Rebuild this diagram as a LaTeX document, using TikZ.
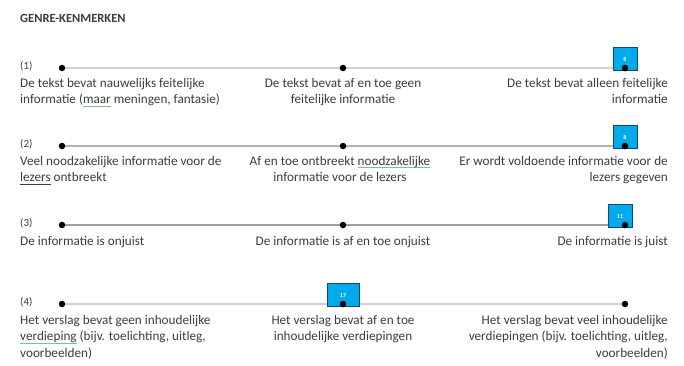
\documentclass[tikz,border=0pt]{standalone}
\usepackage{fontspec}
\setmainfont{Carlito}
\usepackage{tikz}
\usetikzlibrary{positioning, backgrounds}
\definecolor{TextGrey}{RGB}{60,60,60}
\definecolor{MarkBlue}{RGB}{0,170,235}
\definecolor{MarkEdge}{RGB}{20,70,120}
\definecolor{SpellGreen}{RGB}{120,195,135}
% spell-check style underline
\newsavebox{\spellbox}
\newcommand{\spellmark}[1]{\sbox{\spellbox}{#1}\rlap{\textcolor{SpellGreen}{\rule[-2.6pt]{\wd\spellbox}{0.8pt}}}\usebox{\spellbox}}
\newcommand{\greyline}[1]{\sbox{\spellbox}{#1}\rlap{\rule[-2.6pt]{\wd\spellbox}{0.6pt}}\usebox{\spellbox}}
\tikzset{
  dot/.style={circle, fill=black, inner sep=0pt, minimum size=6.5pt},
  scaleline/.style={line width=2.5pt},
  scoremark/.style={draw=MarkEdge, line width=0.6pt, fill=MarkBlue, minimum height=23pt, text=white, font=\fontsize{6}{6}\selectfont\bfseries},
  rubric/.style={text=TextGrey, inner sep=0pt, font=\fontsize{13.2}{16.5}\selectfont},
  itemno/.style={text=TextGrey, inner sep=0pt, font=\fontsize{11}{11}\selectfont, anchor=base west},
}

\begin{document}
\begin{tikzpicture}[x=1pt, y=-1pt]
  \useasboundingbox (0,0) rectangle (684,365);

  \node[rubric, anchor=west, font=\fontsize{12.5}{12.5}\selectfont\bfseries] (title) at (20,18) {GENRE-KENMERKEN};

  % the four scales
  \foreach \r/\y/\g in {1/68/18, 2/146/30, 3/225/38, 4/304/18} {
    \node[dot] (l\r) at (62,\y) {};
    \node[dot] (m\r) at (343,\y) {};
    \node[dot] (r\r) at (625,\y) {};
    \begin{scope}[on background layer]
      \draw[scaleline, black!\g] (l\r) -- (m\r) -- (r\r);
    \end{scope}
  }

  % scores
  \node[scoremark, minimum width=24pt, anchor=south] (s1) at ([yshift=-3pt]r1.center) {8};
  \node[scoremark, minimum width=24pt, anchor=south] (s2) at ([yshift=-3pt]r2.center) {8};
  \node[scoremark, minimum width=24pt, anchor=south] (s3) at ([xshift=-5pt, yshift=-3pt]r3.center) {11};
  \node[scoremark, minimum width=32pt, anchor=south] (s4) at ([yshift=-3pt]m4.center) {17};
  \foreach \d in {r1, r2, r3, m4} {
    \node[dot] at (\d) {};
  }

  % (1)
  \node[itemno] (n1) at (20,69) {(1)};
  \node[rubric, anchor=north west, align=left] (a1) at (20,78) {De tekst bevat nauwelijks feitelijke\\informatie (\spellmark{maar} meningen, fantasie)};
  \node[rubric, anchor=north, align=center] (b1) at (343,78) {De tekst bevat af en toe geen\\feitelijke informatie};
  \node[rubric, anchor=north east, align=right] (c1) at (668,78) {De tekst bevat alleen feitelijke\\informatie};

  % (2)
  \node[itemno] (n2) at (20,147) {(2)};
  \node[rubric, anchor=north west, align=left] (a2) at (20,156) {Veel noodzakelijke informatie voor de\\\greyline{lezers} ontbreekt};
  \node[rubric, anchor=north, align=center] (b2) at (340,156) {Af en toe ontbreekt \spellmark{noodzakelijke}\\informatie voor de lezers};
  \node[rubric, anchor=north east, align=right] (c2) at (668,156) {Er wordt voldoende informatie voor de\\lezers gegeven};

  % (3)
  \node[itemno] (n3) at (20,226) {(3)};
  \node[rubric, anchor=north west, align=left] (a3) at (20,236) {De informatie is onjuist};
  \node[rubric, anchor=north, align=center] (b3) at (343,236) {De informatie is af en toe onjuist};
  \node[rubric, anchor=north east, align=right] (c3) at (668,236) {De informatie is juist};

  % (4)
  \node[itemno] (n4) at (20,305) {(4)};
  \node[rubric, anchor=north west, align=left] (a4) at (20,315) {Het verslag bevat geen inhoudelijke\\\spellmark{verdieping} (bijv. toelichting, uitleg,\\voorbeelden)};
  \node[rubric, anchor=north, align=center] (b4) at (343,315) {Het verslag bevat af en toe\\inhoudelijke verdiepingen};
  \node[rubric, anchor=north east, align=right] (c4) at (668,315) {Het verslag bevat veel inhoudelijke\\verdiepingen (bijv. toelichting, uitleg,\\voorbeelden)};
\end{tikzpicture}
\end{document}
